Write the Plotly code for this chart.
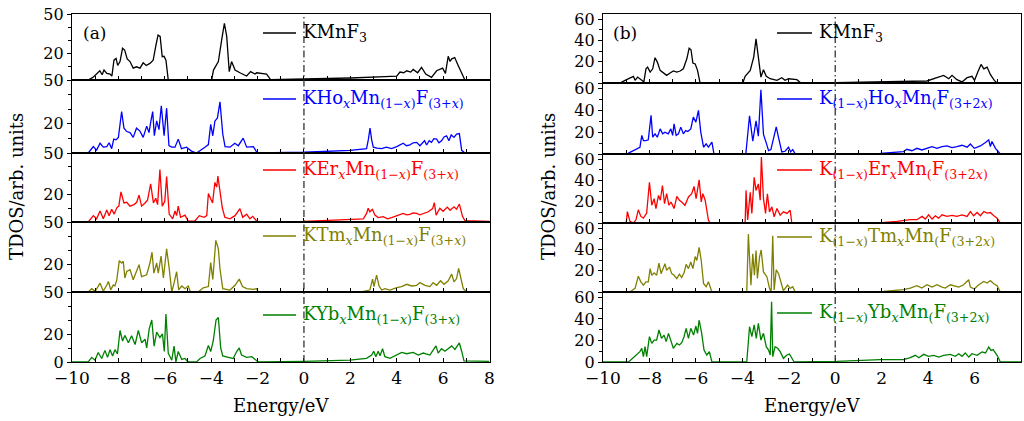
import plotly.graph_objects as go

W, H = 1024, 421

# ---------------- data: (energy eV, TDOS) ----------------
a_kmnf3 = [(-10, 0), (-9.3, 0), (-9.1, 2), (-8.94, 4.5), (-8.8, 7), (-8.7, 4), (-8.62, 7.5), (-8.5, 5), (-8.36, 4.5),
           (-8.28, 3), (-8.19, 15), (-8.1, 16.4), (-8.03, 11), (-7.93, 14), (-7.82, 24), (-7.73, 22.7), (-7.62, 16),
           (-7.5, 14), (-7.36, 9), (-7.22, 10), (-7.07, 9), (-6.93, 13), (-6.8, 11), (-6.64, 12.6), (-6.5, 15),
           (-6.38, 26.5), (-6.29, 34), (-6.2, 33), (-6.11, 17.7), (-6.03, 18), (-5.95, 15), (-5.85, 0), (-3.98, 0),
           (-3.9, 7.5), (-3.69, 14), (-3.55, 30), (-3.43, 43), (-3.33, 33), (-3.22, 6.3), (-3.12, 14), (-2.97, 7.5),
           (-2.76, 5.5), (-2.6, 4), (-2.47, 3), (-2.3, 6.3), (-2.11, 4.5), (-2.04, 5.5), (-1.8, 5), (-1.61, 4.5),
           (-1.44, 0.3), (0, 0.6), (2.0, 1.5), (3.5, 2.5), (4.0, 3), (4.14, 6), (4.3, 5.5), (4.43, 7), (4.6, 6),
           (4.71, 8), (4.9, 5.5), (5.07, 9.6), (5.25, 4.5), (5.5, 2), (5.72, 7), (5.98, 9), (6.1, 5), (6.22, 18),
           (6.3, 14), (6.37, 16), (6.5, 17), (6.65, 11), (6.87, 2.5), (6.94, 0), (8, 0)]

a_kho = [(-10, 0), (-9.3, 0), (-9.08, 4.4), (-8.94, 2), (-8.79, 6.7), (-8.65, 4), (-8.5, 4.4), (-8.4, 7), (-8.29, 3),
         (-8.2, 9.5), (-8.1, 9), (-8.0, 10.7), (-7.86, 28.4), (-7.76, 17), (-7.64, 14.7), (-7.5, 14), (-7.36, 10.7),
         (-7.22, 17), (-7.07, 15), (-6.93, 10.7), (-6.78, 18.4), (-6.68, 14), (-6.6, 21.8), (-6.52, 28.4),
         (-6.45, 11.8), (-6.35, 22), (-6.25, 16), (-6.15, 32.4), (-6.03, 11.8), (-5.92, 30.7), (-5.82, 5), (-5.7, 4),
         (-5.56, 4), (-5.42, 9.5), (-5.28, 3), (-5.06, 4), (-4.85, 1.3), (-4.63, 0), (-4.27, 4), (-4.12, 5.8),
         (-4.02, 19.6), (-3.93, 11.8), (-3.84, 21.8), (-3.73, 24), (-3.62, 35), (-3.5, 13), (-3.4, 4.4), (-3.19, 4),
         (-2.98, 6.7), (-2.83, 5), (-2.62, 10.2), (-2.47, 4), (-2.18, 4.4), (-2.04, 0.7), (-1.97, 0), (0, 0.5),
         (2.0, 1.8), (2.7, 3), (2.78, 9.5), (2.85, 17), (2.92, 9), (2.99, 4), (3.15, 3.3), (3.35, 3), (3.55, 4),
         (3.78, 3), (4.0, 4.4), (4.14, 5.5), (4.28, 6.7), (4.42, 5), (4.57, 5.6), (4.71, 7), (4.86, 7.3), (5.0, 5),
         (5.1, 6.5), (5.2, 8.4), (5.29, 5.5), (5.4, 8.4), (5.5, 7.3), (5.6, 9.8), (5.72, 9.5), (5.82, 7), (5.93, 8.4),
         (6.04, 11), (6.15, 11.8), (6.25, 8.4), (6.35, 12.4), (6.47, 10.7), (6.58, 13), (6.7, 13.3), (6.8, 1.8),
         (6.94, 0), (8, 0)]

a_ker = [(-10, 0), (-9.3, 0), (-9.08, 4.6), (-8.94, 2.3), (-8.79, 8), (-8.65, 2.3), (-8.5, 8.7), (-8.4, 4.6),
         (-8.29, 9.2), (-8.18, 5.7), (-8.07, 10.3), (-7.98, 11.5), (-7.89, 21.8), (-7.76, 13.8), (-7.64, 14.3),
         (-7.5, 11.5), (-7.33, 12.6), (-7.21, 14.3), (-7.11, 19.5), (-7.0, 11.5), (-6.85, 13.8), (-6.74, 16),
         (-6.61, 27.6), (-6.49, 13.8), (-6.39, 17.2), (-6.31, 12.6), (-6.21, 38), (-6.11, 11.5), (-6.0, 15),
         (-5.92, 33), (-5.81, 5.7), (-5.66, 2.3), (-5.56, 8), (-5.49, 4.6), (-5.42, 11.5), (-5.32, 3.4), (-5.13, 5),
         (-4.99, 0.7), (-4.7, 0.7), (-4.51, 4.6), (-4.31, 3.4), (-4.19, 4.6), (-4.12, 20.7), (-4.02, 17.2),
         (-3.94, 13.8), (-3.84, 28.7), (-3.76, 25.3), (-3.71, 33.3), (-3.62, 20.7), (-3.52, 10.3), (-3.41, 3.4),
         (-3.19, 2.3), (-2.97, 4.6), (-2.76, 9.7), (-2.64, 3.4), (-2.47, 5.7), (-2.33, 2.3), (-2.21, 4.1),
         (-2.04, 0.7), (-1.93, 0), (0, 0.5), (2.56, 2.3), (2.7, 6.2), (2.77, 10), (2.84, 7.4), (2.95, 9.2), (3.06, 5),
         (3.2, 3.2), (3.42, 3.9), (3.6, 2.3), (3.78, 3.2), (4.0, 4.6), (4.14, 5.5), (4.28, 6.2), (4.42, 5.2),
         (4.57, 5.5), (4.7, 6.5), (4.86, 6.2), (5.0, 5.2), (5.14, 6), (5.25, 7), (5.36, 7.4), (5.55, 9.7), (5.62, 14),
         (5.7, 5), (5.86, 10), (6.0, 7.8), (6.18, 10.8), (6.3, 8.5), (6.47, 11), (6.58, 9.2), (6.7, 13), (6.84, 3.9),
         (6.94, 1), (8, 0.5)]

a_ktm = [(-10, 0), (-9.3, 0), (-9.15, 2.4), (-9.0, 0.5), (-8.79, 6.3), (-8.65, 0.5), (-8.5, 5), (-8.43, 7.5),
         (-8.33, 1.5), (-8.22, 5), (-8.15, 4.3), (-8.07, 8.7), (-7.96, 22.4), (-7.86, 20.7), (-7.79, 22), (-7.72, 10),
         (-7.64, 14.7), (-7.5, 16), (-7.36, 8.7), (-7.21, 14.7), (-7.11, 19.5), (-7.0, 11), (-6.78, 12.3),
         (-6.64, 20.7), (-6.55, 28.4), (-6.47, 13.5), (-6.35, 20.7), (-6.28, 13.5), (-6.16, 25.6), (-6.06, 10),
         (-5.92, 30.8), (-5.81, 17), (-5.7, 0), (-5.6, 6.3), (-5.49, 14.5), (-5.4, 1.5), (-5.27, 4.3), (-5.13, 2.4),
         (-4.99, 4.3), (-4.89, 0), (-4.56, 0), (-4.34, 3), (-4.12, 3.9), (-4.02, 21), (-3.93, 9), (-3.8, 36.9),
         (-3.69, 30.8), (-3.62, 16.4), (-3.5, 2.4), (-3.19, 1.4), (-2.97, 4.8), (-2.79, 9.2), (-2.65, 3.9),
         (-2.47, 2.4), (-2.18, 1.9), (-2.04, 2.4), (-1.97, 0), (2.0, 0), (2.56, 0.5), (2.84, 1.4), (2.96, 9.2),
         (3.02, 3.9), (3.13, 12), (3.24, 4.3), (3.35, 1.4), (3.49, 2.4), (3.71, 1.4), (4.0, 3.1), (4.21, 3.9),
         (4.43, 5.5), (4.64, 4.3), (4.86, 4.8), (5.0, 6.7), (5.22, 4.8), (5.43, 3.9), (5.57, 6.7), (5.72, 4.8),
         (5.89, 8), (6.04, 5.5), (6.22, 8), (6.37, 12.8), (6.47, 7.2), (6.58, 9.6), (6.67, 16.9), (6.76, 9.2),
         (6.87, 2.4), (7.01, 0), (8, 0)]

a_kyb = [(-10, 0), (-9.3, 0), (-9.15, 3.3), (-9.01, 1.3), (-8.87, 6.8), (-8.72, 2.5), (-8.58, 8.3), (-8.47, 3.3),
         (-8.36, 8.8), (-8.25, 4.3), (-8.15, 8.8), (-8.04, 5.8), (-7.93, 22.5), (-7.82, 15), (-7.72, 19),
         (-7.57, 13.8), (-7.43, 18.8), (-7.28, 12.5), (-7.14, 22.5), (-7.0, 13.8), (-6.85, 16.3), (-6.78, 10),
         (-6.67, 23.8), (-6.56, 30), (-6.46, 11.3), (-6.35, 21.3), (-6.21, 17.5), (-6.1, 20), (-6.02, 7.5),
         (-5.95, 34.3), (-5.85, 6.3), (-5.7, 1.3), (-5.6, 11.3), (-5.52, 0), (-5.42, 7.5), (-5.27, 1.8), (-5.13, 2.5),
         (-4.99, 0), (-4.63, 0), (-4.48, 2.5), (-4.27, 4.3), (-4.12, 11.8), (-4.02, 7.5), (-3.91, 15), (-3.79, 30),
         (-3.69, 31.8), (-3.59, 10), (-3.5, 4.3), (-3.26, 3.3), (-3.05, 2.5), (-2.9, 7.5), (-2.79, 10), (-2.69, 5),
         (-2.47, 3.3), (-2.25, 3.8), (-2.04, 0.5), (-1.97, 0), (0, 0.5), (1.98, 1.3), (2.7, 2.6), (2.92, 5),
         (3.01, 7.7), (3.1, 3.8), (3.2, 7.7), (3.28, 4.4), (3.39, 9.5), (3.49, 3.8), (3.71, 2.6), (4.0, 5),
         (4.21, 6.9), (4.43, 5.9), (4.71, 6.9), (4.93, 5), (5.14, 6.4), (5.43, 5), (5.6, 9), (5.69, 11.5),
         (5.79, 6.4), (5.93, 9.5), (6.08, 7.7), (6.22, 9.5), (6.37, 11.5), (6.51, 9), (6.6, 11.5), (6.7, 13.6),
         (6.8, 7.7), (6.9, 0.8), (8, 0.5)]

b_kmnf3 = [(-10, 0), (-9.27, 0), (-9.05, 2.5), (-8.84, 5), (-8.69, 6.3), (-8.62, 2.5), (-8.51, 5.6), (-8.33, 2.5),
           (-8.24, 1), (-8.15, 13.4), (-8.08, 15), (-7.97, 10.3), (-7.86, 13.4), (-7.76, 23.8), (-7.66, 19.7),
           (-7.54, 11.9), (-7.4, 9.4), (-7.26, 7.2), (-7.11, 9.4), (-6.97, 11.3), (-6.82, 10.3), (-6.68, 11.3),
           (-6.54, 13.4), (-6.39, 22.8), (-6.29, 32.8), (-6.21, 31.3), (-6.13, 18.8), (-6.03, 18), (-5.93, 11.9),
           (-5.82, 0), (-3.98, 0), (-3.88, 6.3), (-3.66, 11.9), (-3.51, 24.4), (-3.41, 41.6), (-3.31, 24.4),
           (-3.2, 5.6), (-3.09, 12.5), (-2.97, 6.3), (-2.8, 4), (-2.51, 2.5), (-2.3, 5), (-2.16, 2.5), (-2.01, 4),
           (-1.65, 3.1), (-1.48, 0), (0, 0.3), (3.95, 1.9), (4.09, 3.1), (4.38, 5), (4.67, 7.2), (4.89, 4),
           (5.03, 7.2), (5.24, 3.1), (5.46, 1), (5.68, 5), (5.89, 6.3), (6.0, 2.5), (6.14, 10.3), (6.28, 17.5),
           (6.4, 13.4), (6.54, 15), (6.68, 8.1), (6.85, 2.5), (6.97, 0), (8, 0)]

b_kho = [(-10, 0), (-8.98, 0), (-8.84, 1.5), (-8.62, 3.7), (-8.41, 6.2), (-8.33, 17), (-8.26, 12.3), (-8.15, 12.3),
         (-8.05, 13), (-7.93, 35.4), (-7.86, 15.4), (-7.76, 18.5), (-7.66, 15.4), (-7.54, 23), (-7.43, 18.5),
         (-7.33, 20), (-7.19, 18.5), (-7.08, 23), (-7.0, 17), (-6.94, 27.7), (-6.85, 17), (-6.75, 18.5),
         (-6.65, 24.6), (-6.54, 18.5), (-6.44, 21.5), (-6.35, 20.6), (-6.22, 23), (-6.11, 33.8), (-6.0, 29.2),
         (-5.89, 40), (-5.79, 20), (-5.67, 6.2), (-5.56, 9.2), (-5.46, 6.2), (-5.31, 10.8), (-5.22, 0), (-3.85, 0),
         (-3.69, 35), (-3.55, 11.8), (-3.41, 30.3), (-3.31, 16.4), (-3.2, 58.8), (-3.09, 18), (-2.97, 10.2),
         (-2.87, 3.1), (-2.77, 4), (-2.66, 13.3), (-2.54, 24.8), (-2.44, 14.9), (-2.3, 1.9), (-2.16, 2.5),
         (-2.01, 6.2), (-1.92, 1.9), (-1.83, 4), (-1.72, 0), (1.94, 0.6), (2.94, 2.2), (3.09, 4.3), (3.3, 3),
         (3.52, 5.2), (3.73, 3.7), (3.95, 5.2), (4.17, 6.8), (4.38, 5.2), (4.6, 6.8), (4.81, 7.4), (5.03, 5.8),
         (5.24, 6.8), (5.46, 8), (5.68, 6.2), (5.82, 9.2), (5.99, 5.2), (6.25, 7.4), (6.47, 10.5), (6.61, 13),
         (6.68, 6.8), (6.75, 11.4), (6.9, 5.2), (7.11, 0), (8, 0)]

b_ker = [(-10, 0), (-9.0, 0), (-8.95, 10.8), (-8.84, 1.5), (-8.69, 0), (-8.58, 3), (-8.48, 12.4), (-8.37, 6.2),
         (-8.26, 4.6), (-8.12, 9.3), (-8.0, 38.4), (-7.9, 16.7), (-7.8, 22.9), (-7.72, 13.6), (-7.61, 26),
         (-7.53, 21.4), (-7.44, 35.3), (-7.35, 18.3), (-7.26, 27.6), (-7.16, 16.7), (-7.07, 19.8), (-6.94, 13.6),
         (-6.82, 25), (-6.71, 21.4), (-6.61, 19.8), (-6.47, 16.7), (-6.32, 24.5), (-6.18, 27.6), (-6.08, 34.4),
         (-5.99, 22.9), (-5.86, 40.6), (-5.77, 19.8), (-5.7, 27.6), (-5.6, 21.4), (-5.53, 12), (-5.46, 2.8),
         (-5.39, 0), (-3.88, 0), (-3.84, 30.7), (-3.77, 2.8), (-3.66, 29), (-3.59, 9), (-3.49, 43), (-3.41, 30.7),
         (-3.31, 36.8), (-3.23, 21.4), (-3.18, 62.2), (-3.09, 22.9), (-3.0, 9), (-2.92, 27.6), (-2.83, 10.5),
         (-2.73, 15.2), (-2.63, 5.9), (-2.51, 13.6), (-2.37, 7.4), (-2.23, 10.5), (-2.08, 9), (-1.94, 12),
         (-1.87, 0), (2.0, 0.4), (2.66, 1.5), (3.23, 3.1), (3.52, 3.1), (3.74, 6.2), (3.88, 3.7), (4.02, 7.7),
         (4.17, 3.7), (4.31, 6.8), (4.45, 4.6), (4.6, 7.7), (4.81, 6.2), (5.03, 7.1), (5.24, 6.2), (5.46, 7.7),
         (5.68, 6.2), (5.82, 10.8), (5.96, 6.8), (6.11, 9.9), (6.25, 6.8), (6.4, 10.8), (6.54, 9.3), (6.68, 9.9),
         (6.83, 6.8), (6.97, 4.6), (7.11, 0), (8, 0)]

b_ktm = [(-10, 0), (-8.9, 0), (-8.77, 1.2), (-8.62, 3.4), (-8.48, 14.9), (-8.37, 9.6), (-8.26, 6.5), (-8.15, 9.6),
         (-8.05, 9.6), (-7.97, 22), (-7.9, 15.8), (-7.8, 18), (-7.69, 15.8), (-7.59, 27.2), (-7.5, 17.3), (-7.4, 22),
         (-7.33, 26.6), (-7.26, 20.4), (-7.14, 23.5), (-7.04, 17.3), (-6.94, 15.8), (-6.82, 12.7), (-6.71, 16.7),
         (-6.61, 13.6), (-6.51, 18), (-6.42, 26), (-6.32, 22), (-6.22, 28.2), (-6.13, 22), (-6.03, 33.4),
         (-5.96, 29.7), (-5.86, 42.1), (-5.77, 29.7), (-5.67, 8), (-5.56, 5), (-5.46, 9.6), (-5.31, 0), (-3.81, 0),
         (-3.74, 54.5), (-3.63, 6.5), (-3.55, 36), (-3.48, 15.8), (-3.41, 39), (-3.35, 12.7), (-3.26, 32.8),
         (-3.19, 39.6), (-3.09, 18.9), (-2.94, 14.2), (-2.83, 3.4), (-2.76, 0), (-2.69, 53), (-2.63, 1.9),
         (-2.54, 21), (-2.44, 17.3), (-2.34, 9.6), (-2.23, 1.2), (-2.05, 6.5), (-1.94, 3.4), (-1.83, 5), (-1.72, 0),
         (2.08, 0.6), (2.94, 2.2), (3.23, 3.7), (3.52, 5.9), (3.73, 3.7), (3.95, 6.8), (4.17, 4.6), (4.38, 6.8),
         (4.6, 4.6), (4.74, 3.7), (4.96, 6.8), (5.17, 5.3), (5.32, 4.6), (5.53, 6.8), (5.75, 11.5), (5.82, 4.6),
         (5.99, 2.8), (6.18, 6.8), (6.4, 9.9), (6.54, 8.4), (6.68, 10.8), (6.83, 7.7), (6.97, 5.9), (7.11, 0), (8, 0)]

b_kyb = [(-10, 0), (-8.9, 0), (-8.77, 2.5), (-8.55, 6.5), (-8.41, 9.6), (-8.33, 12.7), (-8.26, 5), (-8.19, 14.2),
         (-8.12, 5), (-8.0, 23.5), (-7.9, 17.3), (-7.8, 20.4), (-7.69, 20.4), (-7.59, 29.7), (-7.48, 22), (-7.37, 25),
         (-7.28, 18.9), (-7.18, 26.6), (-7.08, 20.4), (-6.97, 12.7), (-6.82, 17.3), (-6.71, 15.8), (-6.61, 18),
         (-6.51, 23.5), (-6.42, 31.3), (-6.32, 22), (-6.22, 31.3), (-6.1, 25), (-6.0, 33.4), (-5.93, 26.6),
         (-5.86, 39), (-5.75, 26.6), (-5.65, 11.1), (-5.53, 6.5), (-5.42, 9.6), (-5.31, 0), (-3.81, 0),
         (-3.69, 32.8), (-3.59, 23.5), (-3.49, 34.4), (-3.4, 22), (-3.31, 35.9), (-3.2, 20.4), (-3.09, 26.6),
         (-2.97, 14.2), (-2.87, 11.1), (-2.8, 6.5), (-2.74, 56), (-2.69, 5), (-2.59, 14.2), (-2.48, 12.7),
         (-2.37, 9.6), (-2.23, 3.4), (-2.08, 6.5), (-1.97, 7.4), (-1.87, 3.4), (-1.77, 0), (0.07, 0.6), (1.94, 2.2),
         (2.94, 2.2), (3.23, 4), (3.45, 6.2), (3.6, 4), (3.81, 7.1), (4.02, 5.3), (4.24, 6.2), (4.46, 4.6),
         (4.67, 6.2), (4.96, 7.1), (5.17, 5.3), (5.32, 7.7), (5.46, 5.3), (5.6, 8.4), (5.75, 4.6), (5.89, 7.7),
         (6.11, 6.2), (6.32, 9.3), (6.47, 8.4), (6.61, 13.9), (6.71, 10.8), (6.8, 11.5), (6.97, 6.2), (7.11, 0),
         (8, 0)]

labels_a = ["KMnF<sub>3</sub>",
            "KHo<sub><i>x</i></sub>Mn<sub>(1\u2212<i>x</i>)</sub>F<sub>(3+<i>x</i>)</sub>",
            "KEr<sub><i>x</i></sub>Mn<sub>(1\u2212<i>x</i>)</sub>F<sub>(3+<i>x</i>)</sub>",
            "KTm<sub><i>x</i></sub>Mn<sub>(1\u2212<i>x</i>)</sub>F<sub>(3+<i>x</i>)</sub>",
            "KYb<sub><i>x</i></sub>Mn<sub>(1\u2212<i>x</i>)</sub>F<sub>(3+<i>x</i>)</sub>"]
labels_b = ["KMnF<sub>3</sub>",
            "K<sub>(1\u2212<i>x</i>)</sub>Ho<sub><i>x</i></sub>Mn<sub>(</sub>F<sub>(3+2<i>x</i>)</sub>",
            "K<sub>(1\u2212<i>x</i>)</sub>Er<sub><i>x</i></sub>Mn<sub>(</sub>F<sub>(3+2<i>x</i>)</sub>",
            "K<sub>(1\u2212<i>x</i>)</sub>Tm<sub><i>x</i></sub>Mn<sub>(</sub>F<sub>(3+2<i>x</i>)</sub>",
            "K<sub>(1\u2212<i>x</i>)</sub>Yb<sub><i>x</i></sub>Mn<sub>(</sub>F<sub>(3+2<i>x</i>)</sub>"]
colors = ["#000000", "#0000ff", "#ff0000", "#808000", "#008000"]

x_range = [-10, 8]
y_range_a = [0, 50]
y_range_b = [0, 65]
yticks_a = [0, 20, 50]
yticks_b = [0, 20, 40, 60]

# ---------------- layout geometry (pixels) ----------------
FONT = "DejaVu Serif"
panels = [
    dict(series=[a_kmnf3, a_kho, a_ker, a_ktm, a_kyb], labels=labels_a, xpx=(72, 489.5),
         bounds=[14, 80, 153, 222, 292, 362], yr=y_range_a, yt=yticks_a, tag="(a)", tagx=94,
         leg_line=(263, 296), leg_text=301, leg_y=[33, 99, 170, 236, 315], ytitle_x=17),
    dict(series=[b_kmnf3, b_kho, b_ker, b_ktm, b_kyb], labels=labels_b, xpx=(603, 1021),
         bounds=[14, 83, 154, 223, 292, 362], yr=y_range_b, yt=yticks_b, tag="(b)", tagx=625,
         leg_line=(777, 812), leg_text=817, leg_y=[33, 99, 170, 237, 313], ytitle_x=549),
]

fig = go.Figure()
shapes, annotations = [], []
k = 0
for p in panels:
    first_k = k + 1
    for r in range(5):
        k += 1
        xs = [q[0] for q in p["series"][r]]
        ys = [q[1] for q in p["series"][r]]
        fig.add_trace(go.Scatter(x=xs, y=ys, mode="lines", line=dict(color=colors[r], width=1.3),
                                 xaxis=f"x{k}", yaxis=f"y{k}", showlegend=False, hoverinfo="skip",
                                 cliponaxis=True))
        bottom = (r == 4)
        tt = [("0" if bottom else "") if v == 0 else str(v) for v in p["yt"]]
        fig.update_layout(**{
            f"xaxis{k}": dict(domain=[p["xpx"][0] / W, p["xpx"][1] / W], range=x_range, anchor=f"y{k}",
                              automargin=False,
                              showgrid=False, zeroline=False, showline=True, linecolor="black", linewidth=1.3,
                              mirror=True, ticks="inside", ticklen=4, tickwidth=1, tickcolor="black",
                              dtick=2, tick0=0, showticklabels=bottom,
                              tickfont=dict(family=FONT, size=17, color="black"),
                              minor=dict(dtick=1, ticks="inside", ticklen=4, tickcolor="black")),
            f"yaxis{k}": dict(domain=[1 - p["bounds"][r + 1] / H, 1 - p["bounds"][r] / H], range=p["yr"],
                              anchor=f"x{k}", automargin=False, showgrid=False, zeroline=False, showline=True,
                              linecolor="black", linewidth=1.3, mirror=True, ticks="outside", ticklen=4,
                              tickcolor="black", tickmode="array", tickvals=p["yt"], ticktext=tt,
                              tickfont=dict(family=FONT, size=16, color="black"),
                              minor=dict(dtick=10, tick0=0, ticks="outside", ticklen=3, tickcolor="black")),
        })
        # legend entry
        ly = 1 - p["leg_y"][r] / H
        shapes.append(dict(type="line", xref="paper", yref="paper", x0=p["leg_line"][0] / W,
                           x1=p["leg_line"][1] / W, y0=ly, y1=ly, line=dict(color=colors[r], width=1.3)))
        annotations.append(dict(xref="paper", yref="paper", x=p["leg_text"] / W, y=ly, xanchor="left",
                                yanchor="middle", text=p["labels"][r], showarrow=False,
                                font=dict(family=FONT, size=18, color=colors[r])))
    # E = 0 dash-dot line
    shapes.append(dict(type="line", xref=f"x{first_k}" if first_k > 1 else "x", yref="paper", x0=0, x1=0,
                       y0=1 - 362 / H, y1=1 - 14 / H,
                       line=dict(color="#333333", width=1.3, dash="7px,3px,1.5px,3px")))
    annotations.append(dict(xref="paper", yref="paper", x=p["tagx"] / W, y=1 - 33 / H, text=p["tag"],
                            xanchor="center", yanchor="middle",
                            showarrow=False, font=dict(family=FONT, size=17, color="black")))
    annotations.append(dict(xref="paper", yref="paper", x=p["ytitle_x"] / W, y=1 - 187 / H,
                            xanchor="center", yanchor="middle",
                            text="TDOS/arb. units", textangle=-90, showarrow=False,
                            font=dict(family=FONT, size=18, color="black")))
    annotations.append(dict(xref="paper", yref="paper", x=(p["xpx"][0] + p["xpx"][1]) / 2 / W, y=1 - 405 / H,
                            xanchor="center", yanchor="middle",
                            text="Energy/eV", showarrow=False, font=dict(family=FONT, size=18, color="black")))

fig.update_layout(width=W, height=H, margin=dict(l=0, r=0, t=0, b=0, autoexpand=False),
                  paper_bgcolor="white", plot_bgcolor="white", shapes=shapes, annotations=annotations,
                  showlegend=False)
fig.write_html("out.html")
